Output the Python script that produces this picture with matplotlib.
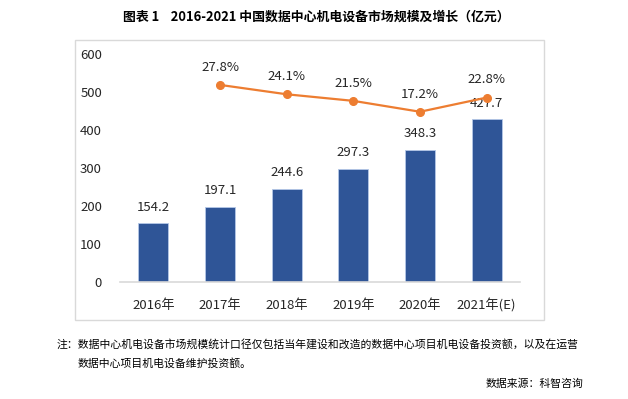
import numpy as np
import matplotlib
matplotlib.use("Agg")
import matplotlib.pyplot as plt
from matplotlib.patches import Rectangle

plt.rcParams['font.family'] = ['Noto Sans CJK SC', 'DejaVu Sans']

# data
years = ['2016年', '2017年', '2018年', '2019年', '2020年', '2021年(E)']
market = [154.2, 197.1, 244.6, 297.3, 348.3, 427.7]
growth_years = [1, 2, 3, 4, 5]
growth = [27.8, 24.1, 21.5, 17.2, 22.8]

bar_color = '#2F5597'
line_color = '#ED7D31'
text_color = '#262626'

fig = plt.figure(figsize=(6.28, 3.99), dpi=100)

# outer frame of the chart
fig.patches.append(Rectangle((75/628, 1-320/399), (544-75)/628, (320-40)/399,
                             transform=fig.transFigure, fill=False,
                             edgecolor='#D9D9D9', linewidth=1.0))

ax = fig.add_axes([120/628, 1-282/399, 400/628, 228/399])
x = np.arange(len(years))
bars = ax.bar(x, market, width=0.45, color=bar_color, edgecolor='#B4C7E7', linewidth=0.6, zorder=2)
ax.set_xlim(-0.5, len(years)-0.5)
ax.set_ylim(0, 600)
ax.set_yticks(range(0, 601, 100))
ax.set_xticks(x)
ax.set_xticklabels(years)
for s in ['top', 'right', 'left']:
    ax.spines[s].set_visible(False)
ax.spines['bottom'].set_color('#D9D9D9')
ax.spines['bottom'].set_linewidth(1.2)
ax.tick_params(axis='both', length=0, labelsize=9.5, colors=text_color)
ax.tick_params(axis='y', pad=13)
ax.tick_params(axis='x', pad=12)

for xi, v in zip(x, market):
    ax.annotate(f'{v:.1f}', (xi, v), xytext=(0, 7), textcoords='offset points',
                ha='center', va='bottom', fontsize=9.5, color=text_color)

# growth line on hidden secondary axis
ax2 = ax.twinx()
ax2.set_ylim(-50, 40)
ax2.axis('off')
ax2.plot(growth_years, growth, color=line_color, linewidth=1.6, marker='o',
         markersize=5.5, zorder=3)
for xi, g in zip(growth_years, growth):
    ax2.annotate(f'{g:.1f}%', (xi, g), xytext=(0, 8), textcoords='offset points',
                 ha='center', va='bottom', fontsize=9.5, color=text_color)

fig.text(316/628, 1-17/399, '图表 1    2016-2021 中国数据中心机电设备市场规模及增长（亿元）',
         ha='center', va='center', fontsize=9.3, fontweight='bold', color='#000000')

fig.text(57/628, 1-344/399,
         '注：数据中心机电设备市场规模统计口径仅包括当年建设和改造的数据中心项目机电设备投资额，以及在运营',
         ha='left', va='center', fontsize=7.8, color='#000000')
fig.text(78/628, 1-363/399, '数据中心项目机电设备维护投资额。',
         ha='left', va='center', fontsize=7.8, color='#000000')
fig.text(583/628, 1-384/399, '数据来源：科智咨询',
         ha='right', va='center', fontsize=7.8, color='#000000')

fig.savefig('out.png', dpi=100)
